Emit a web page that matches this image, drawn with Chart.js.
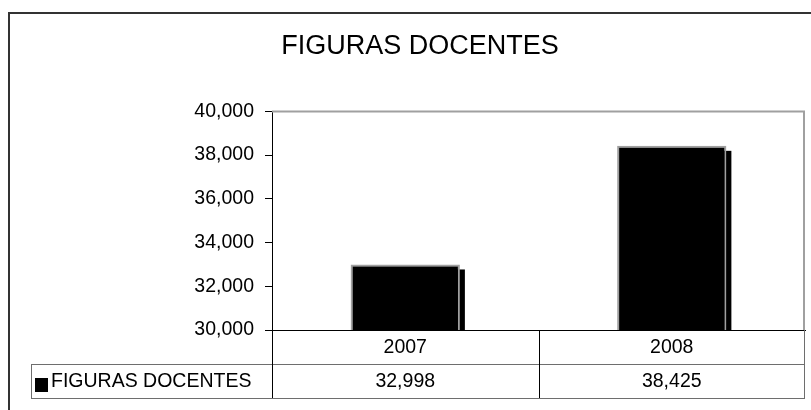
<!DOCTYPE html>
<html>
<head>
<meta charset="utf-8">
<script src="https://cdn.jsdelivr.net/npm/chart.js@4/dist/chart.umd.min.js"></script>
<style>
  html, body { margin: 0; padding: 0; background: #fff; }
  #wrap { width: 811px; height: 410px; }
</style>
</head>
<body>
<div id="wrap"><canvas id="chart" width="811" height="410"></canvas></div>
<script>
// chart data
const categories = ['2007', '2008'];
const seriesName = 'FIGURAS DOCENTES';
const seriesValues = [32998, 38425];
const yMin = 30000;
const yMax = 40000;
const yStep = 2000;

const FONT = "'Liberation Sans', Arial, sans-serif";
const fmt = v => v.toLocaleString('en-US');

// frame, plot border, bar shadows and the data table under the axis
const excelLook = {
    id: 'excelLook',
    beforeDatasetsDraw(chart) {
        const ctx = chart.ctx;
        const area = chart.chartArea;
        ctx.save();
        // plot area border (gray top/right)
        ctx.strokeStyle = '#a0a0a0';
        ctx.lineWidth = 2;
        ctx.beginPath();
        ctx.moveTo(area.left, area.top);
        ctx.lineTo(area.right - 1, area.top);
        ctx.lineTo(area.right - 1, area.bottom);
        ctx.stroke();
        // bar shadows, bars start below the axis so stop at the plot bottom
        const meta = chart.getDatasetMeta(0);
        ctx.fillStyle = '#000';
        meta.data.forEach(bar => {
            const w = bar.width;
            ctx.fillRect(bar.x - w / 2 + 5, bar.y + 5, w, area.bottom - bar.y - 5);
        });
        ctx.restore();
    },
    afterDraw(chart) {
        const ctx = chart.ctx;
        const area = chart.chartArea;
        const x = chart.scales.x;
        ctx.save();
        // outer frame, cropped on right and bottom
        ctx.strokeStyle = '#333';
        ctx.lineWidth = 2;
        ctx.beginPath();
        ctx.moveTo(9, 410);
        ctx.lineTo(9, 13);
        ctx.lineTo(811, 13);
        ctx.stroke();

        // data table
        const rowH = 34;
        const r1 = area.bottom;
        const r2 = r1 + rowH;
        const r3 = r2 + rowH;
        const tableLeft = 31;
        const right = area.right;
        const catW = (area.right - area.left) / categories.length;

        ctx.lineWidth = 1;
        ctx.strokeStyle = '#6e6e6e';
        ctx.beginPath();
        ctx.moveTo(tableLeft, r2 + 0.5); ctx.lineTo(right, r2 + 0.5);
        ctx.moveTo(tableLeft, r3 + 0.5); ctx.lineTo(right, r3 + 0.5);
        ctx.moveTo(tableLeft + 0.5, r2); ctx.lineTo(tableLeft + 0.5, r3);
        ctx.moveTo(right - 0.5, r1); ctx.lineTo(right - 0.5, r3);
        ctx.stroke();

        ctx.strokeStyle = '#000';
        ctx.beginPath();
        for (let i = 0; i < categories.length; i++) {
            const lx = Math.round(area.left + i * catW) + 0.5;
            ctx.moveTo(lx, r1); ctx.lineTo(lx, r3);
        }
        ctx.stroke();

        ctx.fillStyle = '#000';
        ctx.font = '19.5px ' + FONT;
        ctx.textAlign = 'center';
        ctx.textBaseline = 'middle';
        categories.forEach((c, i) => {
            const cx = x.getPixelForValue(i);
            ctx.fillText(c, cx, r1 + rowH / 2 + 1);
            ctx.fillText(fmt(seriesValues[i]), cx, r2 + rowH / 2 + 1);
        });
        // legend key
        ctx.fillRect(35, r2 + 14, 13, 14);
        ctx.textAlign = 'left';
        ctx.fillText(seriesName, 51, r2 + rowH / 2 + 1);
        ctx.restore();
    }
};

new Chart(document.getElementById('chart'), {
    type: 'bar',
    data: {
        labels: categories,
        datasets: [{
            label: seriesName,
            data: seriesValues,
            backgroundColor: '#000',
            borderColor: '#a0a0a0',
            borderWidth: 2,
            borderSkipped: false,
            barPercentage: 0.41,
            categoryPercentage: 1,
        }],
    },
    options: {
        responsive: false,
        animation: false,
        layout: { padding: { left: 35, right: 6, top: 0, bottom: 80 } },
        plugins: {
            legend: { display: false },
            tooltip: { enabled: false },
            title: {
                display: true,
                text: 'FIGURAS DOCENTES',
                color: '#000',
                font: { family: FONT, size: 27, weight: 'normal', lineHeight: 1.2 },
                padding: { top: 30, bottom: 49 },
            },
        },
        scales: {
            x: {
                grid: { display: false },
                border: { display: true, color: '#000', width: 1 },
                ticks: { display: false },
                afterFit(scale) { scale.height = 0; },
            },
            y: {
                min: yMin,
                max: yMax,
                grid: { drawOnChartArea: false, color: '#000', tickLength: 7 },
                border: { color: '#000', width: 1 },
                ticks: {
                    stepSize: yStep,
                    color: '#000',
                    padding: 11,
                    font: { family: FONT, size: 19.5 },
                    callback: v => fmt(v),
                },
                afterFit(scale) { scale.width = 237; },
            },
        },
    },
    plugins: [excelLook],
});
</script>
</body>
</html>
